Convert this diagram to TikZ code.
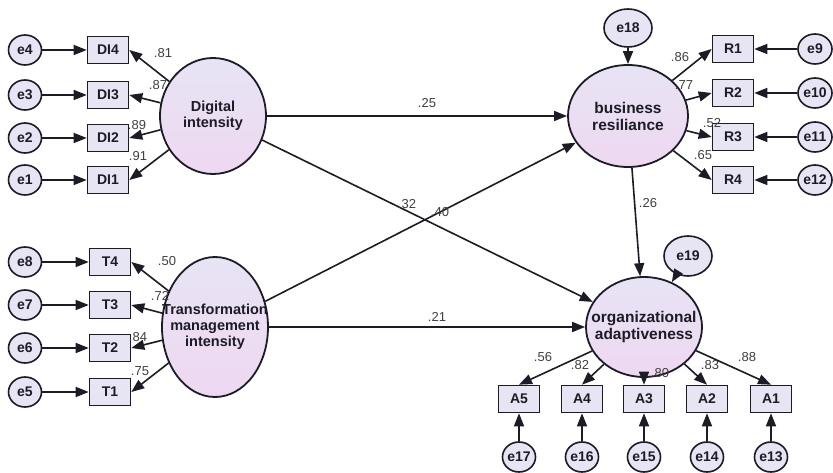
\documentclass[tikz,border=0pt]{standalone}
\usepackage{fontspec}
\setmainfont{Liberation Sans}
\usetikzlibrary{shapes.geometric,arrows.meta}
\definecolor{lav}{RGB}{231,228,244}
\definecolor{lavb}{RGB}{238,216,241}
\definecolor{ink}{RGB}{28,28,38}
\begin{document}
\begin{tikzpicture}[x=1pt,y=-1pt,
  latent/.style={ellipse,draw=ink,line width=1.8pt,top color=lav,bottom color=lavb,
    inner sep=0pt},
  lname/.style={align=center,text=ink,inner sep=0pt,font=\fontsize{14.5}{16}\selectfont\bfseries},
  lnamebig/.style={align=center,text=ink,inner sep=0pt,font=\fontsize{15.5}{17}\selectfont\bfseries},
  obs/.style={rectangle,draw=ink,line width=1.6pt,fill=lav,minimum width=41pt,
    minimum height=27pt,inner sep=0pt,text=ink,font=\fontsize{14}{15}\selectfont\bfseries},
  err/.style={ellipse,draw=ink,line width=1.6pt,fill=lav,minimum width=33pt,
    minimum height=30pt,inner sep=0pt,text=ink,font=\fontsize{14}{15}\selectfont\bfseries},
  link/.style={draw=ink,line width=1.6pt,-{Triangle[length=13pt,width=10pt]}},
  coef/.style={inner sep=0pt,text=black!75,font=\fontsize{13}{14}\selectfont}
]
\useasboundingbox[fill=white] (0,0) rectangle (833,473);

% latent variables (names set as centred labels so the ellipse keeps its size)
\node[latent,minimum width=106pt,minimum height=116pt,
  label={[lname]center:Digital\\intensity}] (di) at (213,116) {};
\node[latent,minimum width=106pt,minimum height=140pt,
  label={[lname]center:Transformation\\management\\intensity}] (tmi) at (215,327) {};
\node[latent,minimum width=120pt,minimum height=102pt,
  label={[lnamebig]center:business\\resiliance}] (br) at (628,116) {};
\node[latent,minimum width=116pt,minimum height=100pt,
  label={[lnamebig]center:organizational\\adaptiveness}] (oa) at (644,327) {};

% indicators
\node[obs] (di4) at (108,50)  {DI4};
\node[obs] (di3) at (108,95)  {DI3};
\node[obs] (di2) at (108,138) {DI2};
\node[obs] (di1) at (108,180) {DI1};
\node[obs] (t4) at (110,262) {T4};
\node[obs] (t3) at (110,305) {T3};
\node[obs] (t2) at (110,348) {T2};
\node[obs] (t1) at (110,392) {T1};
\node[obs] (r1) at (733,49)  {R1};
\node[obs] (r2) at (733,93)  {R2};
\node[obs] (r3) at (733,137) {R3};
\node[obs] (r4) at (733,180) {R4};
\node[obs] (a5) at (519,399) {A5};
\node[obs] (a4) at (582,399) {A4};
\node[obs] (a3) at (644,399) {A3};
\node[obs] (a2) at (707,399) {A2};
\node[obs] (a1) at (771,399) {A1};

% error terms
\node[err] (e4) at (25,50)  {e4};
\node[err] (e3) at (25,95)  {e3};
\node[err] (e2) at (25,138) {e2};
\node[err] (e1) at (25,180) {e1};
\node[err] (e8) at (25,262) {e8};
\node[err] (e7) at (25,305) {e7};
\node[err] (e6) at (25,348) {e6};
\node[err] (e5) at (25,392) {e5};
\node[err,minimum width=34pt] (e9)  at (815,49)  {e9};
\node[err,minimum width=34pt] (e10) at (815,93)  {e10};
\node[err,minimum width=34pt] (e11) at (815,137) {e11};
\node[err,minimum width=34pt] (e12) at (815,180) {e12};
\node[err] (e17) at (519,457) {e17};
\node[err] (e16) at (582,457) {e16};
\node[err] (e15) at (644,457) {e15};
\node[err] (e14) at (707,457) {e14};
\node[err] (e13) at (771,457) {e13};
\node[err,minimum width=48pt,minimum height=38pt] (e18) at (628,28)  {e18};
\node[err,minimum width=48pt,minimum height=40pt] (e19) at (688,256) {e19};

% error to indicator arrows
\foreach \e/\o in {e4/di4,e3/di3,e2/di2,e1/di1,e8/t4,e7/t3,e6/t2,e5/t1}
  \draw[link] (\e) -- (\o);
\foreach \e/\o in {e9/r1,e10/r2,e11/r3,e12/r4}
  \draw[link] (\e) -- (\o);
\foreach \e/\o in {e17/a5,e16/a4,e15/a3,e14/a2,e13/a1}
  \draw[link] (\e) -- (\o);
\draw[link] (e18) -- (br);
\draw[link] (e19) -- (oa);

% measurement loadings
\foreach \o in {di4,di3,di2,di1} \draw[link] (di) -- (\o.east);
\foreach \o in {t4,t3,t2,t1} \draw[link] (tmi) -- (\o.east);
\foreach \o in {r1,r2,r3,r4} \draw[link] (br) -- (\o.west);
\foreach \o in {a5,a4,a3,a2,a1} \draw[link] (oa) -- (\o.north);

% structural paths
\draw[link] (di) -- (br);
\draw[link] (di) -- (oa);
\draw[link] (tmi) -- (br);
\draw[link] (tmi) -- (oa);
\draw[link] (br) -- (oa);

% coefficients
\node[coef] (c1)  at (163,53)  {.81};
\node[coef] (c2)  at (158,85)  {.87};
\node[coef] (c3)  at (137,125) {.89};
\node[coef] (c4)  at (138,156) {.91};
\node[coef] (c5)  at (167,261) {.50};
\node[coef] (c6)  at (160,296) {.72};
\node[coef] (c7)  at (138,337) {.84};
\node[coef] (c8)  at (140,371) {.75};
\node[coef] (c9)  at (680,57)  {.86};
\node[coef] (c10) at (684,85)  {.77};
\node[coef] (c11) at (712,123) {.52};
\node[coef] (c12) at (703,155) {.65};
\node[coef] (c13) at (543,357) {.56};
\node[coef] (c14) at (580,365) {.82};
\node[coef] (c15) at (660,373) {.80};
\node[coef] (c16) at (710,365) {.83};
\node[coef] (c17) at (747,357) {.88};
\node[coef] (c18) at (427,103) {.25};
\node[coef] (c19) at (407,204) {.32};
\node[coef] (c20) at (440,212) {.40};
\node[coef] (c21) at (437,317) {.21};
\node[coef] (c22) at (648,203) {.26};
\end{tikzpicture}
\end{document}
